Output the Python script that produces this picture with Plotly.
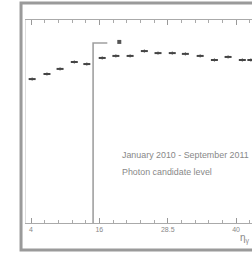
import plotly.graph_objects as go

# data (x in axis units, y as fraction of frame height)
x_vals = [4.2, 6.8, 9.1, 11.6, 13.8, 16.5, 18.9, 21.4, 23.9, 26.3, 28.8, 31.1, 33.7, 36.2, 38.6, 41.1, 42.6]
y_vals = [0.709, 0.734, 0.759, 0.793, 0.783, 0.813, 0.823, 0.823, 0.847, 0.837, 0.837, 0.833, 0.823, 0.803, 0.818, 0.803, 0.803]
y_err = [0.008] * len(x_vals)
extra_x = [19.5]
extra_y = [0.892]
step_x = [14.9, 14.9, 17.4]
step_y = [0.0, 0.887, 0.887]
tick_vals = [4, 16, 28, 40]
tick_text = ["4", "16", "28.5", "40"]
label_lines = ["January 2010 - September 2011", "Photon candidate level"]
x_title = "η<sub>γ</sub>"

fig = go.Figure()
fig.add_trace(go.Scatter(x=step_x, y=step_y, mode="lines",
                         line=dict(color="#a0a0a0", width=1.6), hoverinfo="skip"))
fig.add_trace(go.Scatter(x=x_vals, y=y_vals, mode="markers",
                         marker=dict(symbol="line-ew", size=5, line=dict(color="#444", width=2)),
                         error_y=dict(type="data", array=y_err, color="#666", thickness=1, width=0)))
fig.add_trace(go.Scatter(x=extra_x, y=extra_y, mode="markers",
                         marker=dict(symbol="square", size=4, color="#555")))

fig.update_layout(
    width=252, height=253,
    margin=dict(l=26, r=0, t=20, b=30),
    paper_bgcolor="white", plot_bgcolor="white",
    showlegend=False,
    xaxis=dict(range=[3.12, 42.8], tickvals=tick_vals, ticktext=tick_text,
               ticks="inside", ticklen=5, tickcolor="#999", showline=True, linecolor="#aaa",
               linewidth=1, mirror="ticks", showgrid=False, zeroline=False,
               tickfont=dict(size=7, color="#888", family="Liberation Sans"),
               minor=dict(ticks="inside", ticklen=3, tick0=4, dtick=2.4, tickcolor="#aaa")),
    yaxis=dict(range=[0, 1], showticklabels=False, showgrid=False, zeroline=False,
               showline=True, linecolor="#ddd", mirror=False, ticks=""),
)

fig.add_shape(type="rect", xref="paper", yref="paper", x0=-0.022, x1=1.05, y0=-0.133, y1=1.084,
              line=dict(color="#9a9a9a", width=3), layer="above")

for i, t in enumerate(label_lines):
    fig.add_annotation(text=t, xref="x", yref="paper", x=19.6, y=(223 - (155 + 17 * i)) / 203,
                       xanchor="left", yanchor="middle", showarrow=False,
                       font=dict(size=8.9, color="#888", family="Liberation Sans"))
fig.add_annotation(text=x_title, xref="paper", yref="paper", x=1.0, y=(223 - 239) / 203,
                   xanchor="right", yanchor="middle", showarrow=False,
                   font=dict(size=10, color="#888", family="Liberation Sans"))

fig.write_html("out.html", config={"displayModeBar": False},
               post_script="document.body.style.margin='0';document.body.style.overflow='hidden';")
